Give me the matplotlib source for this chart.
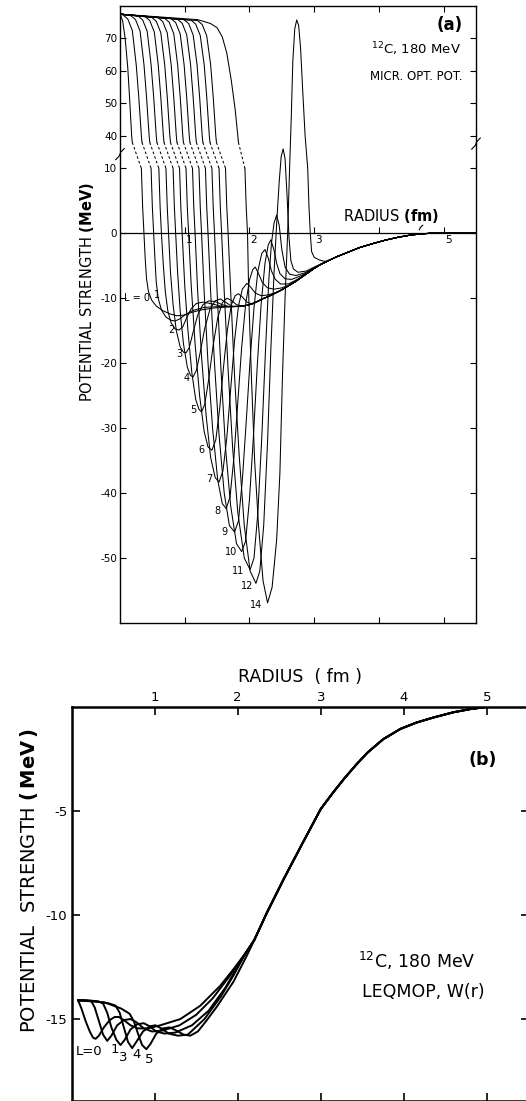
import numpy as np
import matplotlib
matplotlib.use('Agg')
import matplotlib.pyplot as plt

plt.rcParams['font.family'] = ['DejaVu Sans']
plt.rcParams['mathtext.fontset'] = 'dejavusans'

# ---------------- panel (a): micr. opt. pot., 14 partial waves ----------------
L_A = [0, 1, 2, 3, 4, 5, 6, 7, 8, 9, 10, 11, 12, 14]

# upper (repulsive core) part, above the axis break
UP_R = [
    [0, 0.04, 0.08, 0.12, 0.15, 0.18, 0.19],
    [0, 0.05, 0.12, 0.19, 0.25, 0.29, 0.33, 0.34],
    [0, 0.17, 0.24, 0.31, 0.37, 0.41, 0.45, 0.46],
    [0, 0.28, 0.35, 0.42, 0.48, 0.52, 0.56, 0.57],
    [0, 0.39, 0.46, 0.53, 0.59, 0.63, 0.67, 0.68],
    [0, 0.49, 0.56, 0.63, 0.69, 0.73, 0.77, 0.78],
    [0, 0.59, 0.66, 0.73, 0.79, 0.83, 0.87, 0.88],
    [0, 0.69, 0.76, 0.83, 0.89, 0.93, 0.97, 0.98],
    [0, 0.79, 0.86, 0.93, 0.99, 1.03, 1.07, 1.08],
    [0, 0.89, 0.96, 1.03, 1.09, 1.13, 1.17, 1.18],
    [0, 0.99, 1.06, 1.13, 1.19, 1.23, 1.27, 1.28],
    [0, 1.10, 1.17, 1.24, 1.30, 1.34, 1.38, 1.39],
    [0, 1.20, 1.27, 1.34, 1.40, 1.44, 1.48, 1.49],
    [0, 1.20, 1.40, 1.50, 1.58, 1.65, 1.72, 1.78, 1.82, 1.83],
]
UP_V = [
    [77.5, 75.5, 70, 61, 51, 40, 38],
    [77.5, 77.2, 76.0, 72.5, 62, 52, 40, 38],
    [77.5, 77.0, 75.8, 72.3, 62, 52, 40, 38],
    [77.5, 76.9, 75.7, 72.2, 62, 52, 40, 38],
    [77.5, 76.7, 75.5, 72.0, 62, 52, 40, 38],
    [77.5, 76.5, 75.3, 71.8, 62, 52, 40, 38],
    [77.5, 76.4, 75.2, 71.7, 62, 52, 40, 38],
    [77.5, 76.2, 75.0, 71.5, 62, 52, 40, 38],
    [77.5, 76.1, 74.9, 71.4, 62, 52, 40, 38],
    [77.5, 75.9, 74.7, 71.2, 62, 52, 40, 38],
    [77.5, 75.8, 74.6, 71.1, 62, 52, 40, 38],
    [77.5, 75.6, 74.4, 70.9, 62, 52, 40, 38],
    [77.5, 75.5, 74.3, 70.8, 62, 52, 40, 38],
    [77.5, 75.8, 74.6, 73.3, 70.5, 65.5, 57, 48, 40, 38],
]

# lower part, below the axis break
LO_R = [
    [0.33, 0.35, 0.37, 0.39, 0.41, 0.44, 0.49, 0.56, 0.66, 0.77, 0.88, 0.98, 1.1, 1.25, 1.45, 1.7, 1.85],
    [0.48, 0.50, 0.52, 0.54, 0.56, 0.59, 0.64, 0.71, 0.79, 0.85, 0.92, 1.0, 1.12, 1.3, 1.5, 1.7, 1.85],
    [0.60, 0.62, 0.64, 0.67, 0.70, 0.74, 0.79, 0.85, 0.91, 0.97, 1.03, 1.10, 1.18, 1.28, 1.40, 1.55, 1.7, 1.85],
    [0.71, 0.73, 0.75, 0.78, 0.82, 0.87, 0.93, 0.98, 1.02, 1.07, 1.13, 1.20, 1.28, 1.37, 1.47, 1.58, 1.7, 1.85],
    [0.82, 0.84, 0.86, 0.89, 0.93, 0.98, 1.04, 1.09, 1.13, 1.18, 1.24, 1.31, 1.39, 1.47, 1.55, 1.63, 1.72, 1.85],
    [0.92, 0.94, 0.96, 1.0, 1.05, 1.11, 1.17, 1.22, 1.26, 1.31, 1.37, 1.44, 1.51, 1.58, 1.65, 1.72, 1.8, 1.9, 2.0],
    [1.02, 1.04, 1.06, 1.10, 1.16, 1.23, 1.30, 1.36, 1.42, 1.48, 1.54, 1.60, 1.66, 1.72, 1.78, 1.83, 1.89, 1.96, 2.05, 2.15],
    [1.12, 1.14, 1.16, 1.20, 1.26, 1.33, 1.40, 1.47, 1.53, 1.59, 1.65, 1.71, 1.77, 1.83, 1.89, 1.96, 2.02, 2.09, 2.18, 2.28, 2.38],
    [1.22, 1.24, 1.26, 1.30, 1.36, 1.43, 1.51, 1.58, 1.64, 1.70, 1.76, 1.82, 1.88, 1.94, 2.00, 2.05, 2.09, 2.14, 2.20, 2.28, 2.38, 2.5, 2.6],
    [1.32, 1.34, 1.36, 1.40, 1.46, 1.53, 1.61, 1.69, 1.77, 1.83, 1.89, 1.95, 2.01, 2.07, 2.13, 2.19, 2.24, 2.29, 2.34, 2.40, 2.48, 2.6, 2.7, 2.8],
    [1.42, 1.44, 1.46, 1.50, 1.56, 1.63, 1.71, 1.80, 1.88, 1.94, 2.00, 2.06, 2.12, 2.18, 2.24, 2.29, 2.33, 2.38, 2.42, 2.47, 2.55, 2.65, 2.78, 2.9],
    [1.53, 1.55, 1.57, 1.61, 1.67, 1.74, 1.82, 1.92, 2.01, 2.07, 2.13, 2.19, 2.25, 2.30, 2.34, 2.38, 2.42, 2.46, 2.50, 2.55, 2.62, 2.72, 2.85, 3.0],
    [1.63, 1.65, 1.67, 1.71, 1.77, 1.84, 1.92, 2.01, 2.10, 2.16, 2.22, 2.28, 2.33, 2.38, 2.42, 2.46, 2.49, 2.52, 2.55, 2.58, 2.61, 2.64, 2.68, 2.75, 2.88, 3.02, 3.12],
    [1.93, 1.95, 1.97, 1.99, 2.03, 2.08, 2.14, 2.21, 2.28, 2.35, 2.42, 2.47, 2.51, 2.55, 2.59, 2.62, 2.645, 2.67, 2.70, 2.73, 2.76, 2.79, 2.82, 2.86, 2.90, 2.92, 2.94, 2.96, 3.0, 3.08, 3.15],
]
LO_V = [
    [10, 4, 0, -4, -7, -9, -10.3, -11.2, -11.9, -12.4, -12.7, -12.6, -12.2, -11.8, -11.5, -11.3, -11.25],
    [10, 4, 0, -4, -7.5, -10, -11.8, -12.9, -13.4, -13.5, -13.2, -12.6, -11.9, -11.4, -11.3, -11.3, -11.25],
    [10, 4, 0, -5, -9, -12, -13.8, -14.7, -14.9, -14.4, -13.0, -11.6, -10.8, -10.6, -10.8, -11.2, -11.3, -11.25],
    [10, 4, 0, -6, -11, -15, -17.5, -18.3, -18.4, -17.6, -15.2, -12.6, -11.0, -10.4, -10.5, -11.0, -11.3, -11.25],
    [10, 4, 0, -6, -12, -17, -20.6, -21.9, -22.1, -21.1, -18.3, -14.6, -11.7, -10.4, -10.1, -10.6, -11.2, -11.25],
    [10, 4, 0, -8, -15, -21.5, -25.6, -27.1, -27.5, -26.3, -22.5, -17.2, -13.0, -10.7, -10.0, -10.3, -11.0, -11.2, -11.0],
    [10, 4, 0, -8, -17, -25, -30.5, -32.9, -33.4, -31.8, -27.0, -20.5, -14.8, -11.0, -9.6, -9.3, -9.8, -10.6, -10.9, -10.4],
    [10, 4, 0, -9, -19, -28, -34.5, -37.6, -38.3, -36.6, -31.5, -24, -16.5, -11.2, -8.6, -7.7, -8.3, -9.2, -9.6, -9.5, -9.2],
    [10, 4, 0, -9, -20, -30, -38, -41.6, -42.4, -40.6, -34.5, -26, -17.5, -11, -7.2, -5.6, -5.2, -6.2, -7.6, -8.4, -8.6, -8.4, -8.0],
    [10, 4, 0, -9, -20, -31, -40, -45, -46, -44.3, -38, -29, -19.5, -11.5, -5.8, -3.1, -2.5, -3.8, -5.8, -7.1, -7.8, -7.8, -7.3, -6.75],
    [10, 4, 0, -9, -21, -33, -42, -47.8, -49, -47.4, -41, -31.5, -20.5, -11, -4.6, -1.8, -1.0, -2.6, -4.6, -6.2, -7.0, -7.1, -6.6, -6.0],
    [10, 4, 0, -9, -21, -33, -43, -50, -51.8, -50, -43, -31.5, -17.5, -7, -1.5, 1.6, 2.8, 1.2, -2.5, -5.2, -6.3, -6.5, -6.1, -5.35],
    [10, 4, 0, -9, -22, -34, -45, -52, -53.9, -52, -45, -32, -18, -6, 1.5, 8, 11.8, 13, 11.5, 6, -0.5, -4.2, -5.5, -6.0, -5.8, -5.1, -4.65],
    [10, 4, 0, -10, -22, -35, -45, -53.5, -56.9, -54.5, -47.2, -37, -22, -10, 0, 10, 45, 63, 73, 75.7, 74, 67, 55, 40, 10, 4, 0, -2.8, -3.7, -4.1, -4.3],
]

# common outer tail shared by all partial waves
TAIL_R = [1.9, 2.0, 2.1, 2.2, 2.3, 2.4, 2.5, 2.6, 2.7, 2.8, 2.9, 3.0, 3.1, 3.2, 3.35,
          3.5, 3.7, 3.9, 4.1, 4.3, 4.5, 4.7, 4.8, 5.5]
TAIL_V = [-11.2, -11.0, -10.6, -10.1, -9.7, -9.2, -8.7, -8.1, -7.5, -6.8, -6.1, -5.4, -4.8, -4.3, -3.6,
          -3.0, -2.2, -1.6, -1.05, -0.6, -0.25, -0.05, 0.0, 0.0]

# L labels near the minima
LAB_TXT = ['L = 0', '1', '2', '3', '4', '5', '6', '7', '8', '9', '10', '11', '12', '14']
LAB_R = [0.26, 0.57, 0.80, 0.91, 1.03, 1.13, 1.26, 1.38, 1.50, 1.62, 1.72, 1.83, 1.96, 2.11]
LAB_V = [-10.0, -9.5, -14.9, -18.6, -22.3, -27.2, -33.3, -37.9, -42.8, -46.0, -49.0, -52.0, -54.3, -57.2]

YT_A = [-50, -40, -30, -20, -10, 0, 10, 40, 50, 60, 70]
XT = [1, 2, 3, 4, 5]
XT_LAB_A = ['1', '2', '3', '5']
XT_LAB_POS_A = [1, 2, 3, 5]

# ---------------- panel (b): LEQMOP W(r) ----------------
LB_R = [
    [0.08, 0.12, 0.17, 0.22, 0.26, 0.29, 0.33, 0.39, 0.46, 0.52, 0.57, 0.63, 0.71, 0.8, 0.92, 1.07, 1.31, 1.55, 1.79, 1.95, 2.1],
    [0.08, 0.16, 0.24, 0.28, 0.33, 0.38, 0.43, 0.48, 0.55, 0.63, 0.71, 0.78, 0.87, 0.97, 1.1, 1.3, 1.5, 1.7, 1.9, 2.1],
    [0.08, 0.2, 0.32, 0.38, 0.43, 0.48, 0.54, 0.59, 0.64, 0.71, 0.79, 0.87, 0.94, 1.02, 1.12, 1.25, 1.45, 1.65, 1.85, 2.1],
    [0.08, 0.3, 0.45, 0.53, 0.58, 0.63, 0.68, 0.73, 0.78, 0.86, 0.94, 1.01, 1.08, 1.17, 1.28, 1.4, 1.6, 1.8, 1.95, 2.1],
    [0.08, 0.4, 0.6, 0.70, 0.75, 0.80, 0.85, 0.90, 0.95, 1.02, 1.10, 1.18, 1.26, 1.35, 1.43, 1.52, 1.62, 1.75, 1.95, 2.11],
]
LB_V = [
    [-14.1, -14.5, -15.1, -15.6, -15.9, -15.95, -15.8, -15.4, -15.05, -14.9, -14.9, -15.05, -15.3, -15.45, -15.45, -15.3, -15.0, -14.36, -13.4, -12.6, -11.8],
    [-14.1, -14.1, -14.15, -14.45, -15.1, -15.75, -16.05, -15.8, -15.3, -15.05, -15.0, -15.15, -15.45, -15.6, -15.55, -15.3, -14.8, -14.0, -12.95, -11.8],
    [-14.1, -14.1, -14.15, -14.25, -14.7, -15.4, -16.0, -16.25, -16.0, -15.5, -15.25, -15.2, -15.35, -15.6, -15.7, -15.65, -15.3, -14.6, -13.5, -11.8],
    [-14.1, -14.15, -14.25, -14.35, -14.7, -15.4, -16.1, -16.4, -16.1, -15.6, -15.35, -15.3, -15.45, -15.7, -15.8, -15.75, -15.0, -13.9, -12.9, -11.8],
    [-14.1, -14.2, -14.5, -14.75, -15.1, -15.7, -16.25, -16.45, -16.2, -15.7, -15.45, -15.4, -15.55, -15.75, -15.8, -15.6, -15.1, -14.4, -13.2, -11.95],
]
MAIN_R = [2.1, 2.2, 2.35, 2.55, 2.76, 3.0, 3.15, 3.28, 3.42, 3.56, 3.75, 3.96, 4.15, 4.36, 4.6, 4.8, 4.99, 5.5]
MAIN_V = [-11.8, -11.2, -9.9, -8.3, -6.7, -4.9, -4.1, -3.45, -2.8, -2.2, -1.55, -1.05, -0.75, -0.5, -0.25, -0.1, 0.0, 0.0]

LAB_B_TXT = ['L=0', '1', '3', '4', '5']
LAB_B_R = [0.05, 0.47, 0.57, 0.73, 0.88]
LAB_B_V = [-16.55, -16.45, -16.85, -16.7, -16.95]
YT_B = [-15, -10, -5]


def fwd(y):
    y = np.asarray(y, dtype=float)
    return np.where(y <= 13, y, np.where(y < 38, 13 + (y - 13) / 25.0, 14 + (y - 38) / 2.0))


def inv(z):
    z = np.asarray(z, dtype=float)
    return np.where(z <= 13, z, np.where(z < 14, 13 + (z - 13) * 25.0, 38 + (z - 14) * 2.0))


W, H = 526, 1101
fig = plt.figure(figsize=(W / 100, H / 100), dpi=100)

# ======== panel (a) ========
ax = fig.add_axes([120 / W, 1 - 623 / H, 356 / W, 617 / H])
ax.set_yscale('function', functions=(fwd, inv))
ax.set_xlim(0, 5.5)
ax.set_ylim(-60, 80)

lw_a = 0.75
for i in range(len(L_A)):
    ax.plot(UP_R[i], UP_V[i], color='k', lw=lw_a)
    ax.plot([UP_R[i][-1], LO_R[i][0]], [UP_V[i][-1], LO_V[i][0]], color='k', lw=lw_a,
            linestyle=(0, (2.5, 2.2)))
    rr = list(LO_R[i]) + [t for t in TAIL_R if t > LO_R[i][-1]]
    vv = list(LO_V[i]) + [v for t, v in zip(TAIL_R, TAIL_V) if t > LO_R[i][-1]]
    ax.plot(rr, vv, color='k', lw=lw_a)

for s, r, v in zip(LAB_TXT, LAB_R, LAB_V):
    ax.text(r, v, s, fontsize=7, ha='center', va='center')

ax.axhline(0, color='k', lw=0.9)
ax.vlines(XT, 0, 0.9, color='k', lw=0.8)
for s, r in zip(XT_LAB_A, XT_LAB_POS_A):
    ax.text(r + 0.02, -0.3, s, fontsize=7.5, ha='left', va='top')

ax.set_yticks(YT_A)
ax.set_yticklabels([str(t) for t in YT_A], fontsize=7.5)
ax.set_xticks(XT)
ax.set_xticklabels([])
ax.tick_params(direction='in', length=4, width=0.8, top=True, right=True, pad=2)
ax.minorticks_off()
for sp in ax.spines.values():
    sp.set_linewidth(1.0)

# axis break marks
for xf, yf in [(0.0, 0.760), (1.0, 0.777)]:
    ax.plot([xf - 0.012, xf - 0.002, xf + 0.002, xf + 0.012],
            [yf - 0.009, yf - 0.003, yf + 0.003, yf + 0.009],
            transform=ax.transAxes, color='k', lw=0.8, clip_on=False)

ax.text(3.45, 2.6, r'RADIUS $\mathbf{(fm)}$', fontsize=10.5, ha='left', va='center')
ax.annotate('', xy=(4.62, 0.1), xytext=(4.72, 1.4),
            arrowprops=dict(arrowstyle='-', lw=0.8, connectionstyle='arc3,rad=0.4'))
ax.text(0.962, 0.969, '(a)', transform=ax.transAxes, fontsize=12, fontweight='bold',
        ha='right', va='center')
ax.text(0.958, 0.930, r'$^{12}$C, 180 MeV', transform=ax.transAxes, fontsize=9.5,
        ha='right', va='center')
ax.text(0.963, 0.8865, 'MICR. OPT. POT.', transform=ax.transAxes, fontsize=8.5,
        ha='right', va='center')
fig.text(87 / W, 1 - 292 / H, r'POTENTIAL STRENGTH $\mathbf{(MeV)}$', rotation=90,
         fontsize=10.5, ha='center', va='center')

# ======== panel (b) ========
bx = fig.add_axes([71.5 / W, 0.0, 5.5 * 83.1 / W, 394 / H])
bx.set_xlim(0, 5.5)
bx.set_ylim(-18.94, 0)
lw_b = 1.4
for i in range(len(LB_R)):
    rr = list(LB_R[i]) + [t for t in MAIN_R if t > LB_R[i][-1]]
    vv = list(LB_V[i]) + [v for t, v in zip(MAIN_R, MAIN_V) if t > LB_R[i][-1]]
    bx.plot(rr, vv, color='k', lw=lw_b, solid_joinstyle='round')
for s, r, v in zip(LAB_B_TXT, LAB_B_R, LAB_B_V):
    bx.text(r, v, s, fontsize=9.5, ha='left', va='center')

bx.set_xticks(XT)
bx.set_xticklabels([str(t) for t in XT], fontsize=9.5)
bx.set_yticks(YT_B)
bx.set_yticklabels([str(t) for t in YT_B], fontsize=9.5)
bx.tick_params(direction='in', length=6, width=1.2, top=True, right=True,
               labeltop=True, labelbottom=False, pad=3)
bx.tick_params(axis='x', pad=2)
for sp in bx.spines.values():
    sp.set_linewidth(1.8)
bx.set_xlabel('RADIUS  ( fm )', fontsize=12.5, labelpad=7)
bx.xaxis.set_label_position('top')
fig.text(29 / W, 1 - 880 / H, r'POTENTIAL  STRENGTH $\mathbf{(\,MeV\,)}$', rotation=90,
         fontsize=14, ha='center', va='center')
bx.text(4.95, -2.55, '(b)', fontsize=12.5, fontweight='bold', ha='center', va='center')
bx.text(3.45, -12.2, r'$^{12}$C, 180 MeV', fontsize=12.5, ha='left', va='center')
bx.text(3.5, -13.7, 'LEQMOP, W(r)', fontsize=12.5, ha='left', va='center')

fig.savefig('out.png', dpi=100)
